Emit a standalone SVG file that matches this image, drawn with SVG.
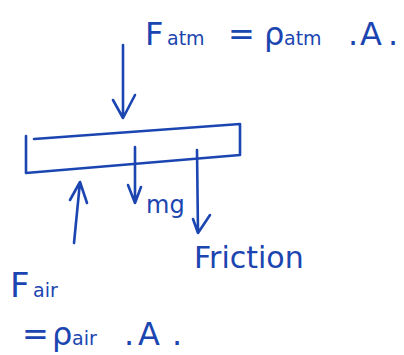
<svg xmlns="http://www.w3.org/2000/svg" width="404" height="355" viewBox="0 0 404 355">
<style>
.ink{fill:none;stroke:#1b45b0;stroke-width:2.6;stroke-linecap:round;stroke-linejoin:round}
.t{fill:#1b45b0;font-family:"DejaVu Sans","Liberation Sans",sans-serif}
.sub{font-size:19px}
</style>
<rect width="404" height="355" fill="#ffffff"/>
<g id="bar">
<path class="ink" d="M26,136 L26,173 L240,155 L240,124 L34,139"/>
</g>
<g id="label-fatm">
<text class="t" x="145" y="45" font-size="32">F<tspan class="sub" x="167">atm</tspan><tspan x="228">=</tspan><tspan x="264">ρ</tspan><tspan class="sub" x="284">atm</tspan><tspan x="348">.</tspan><tspan x="360">A</tspan><tspan x="388">.</tspan></text>
</g>
<g id="label-mg">
<text class="t" x="146" y="213" font-size="24">mg</text>
</g>
<g id="label-friction">
<text class="t" x="194" y="268" font-size="30">Friction</text>
</g>
<g id="label-fair">
<text class="t" x="10" y="297" font-size="34">F<tspan class="sub" x="33" font-size="22">air</tspan></text>
<text class="t" x="22" y="345" font-size="32">=<tspan x="52">ρ</tspan><tspan class="sub" x="72" font-size="22">air</tspan><tspan x="124">.</tspan><tspan x="138">A</tspan><tspan x="172">.</tspan></text>
</g>
<g id="connectors">
<path class="ink" d="M123,45 L123,118 M113,100 L123,118 L135,95"/>
<path class="ink" d="M135,147 L135,203 M128,185 L135,203 L141,187"/>
<path class="ink" d="M197,150 L198,233 M193,219 L198,233 L210,215"/>
<path class="ink" d="M74,243 L80,182 M70,200 L80,182 L87,203"/>
</g>
</svg>
